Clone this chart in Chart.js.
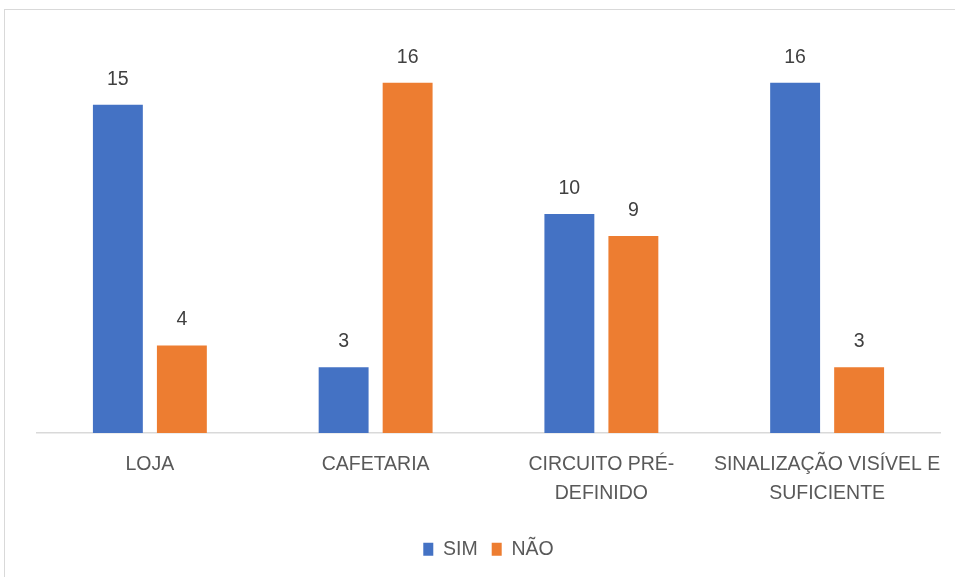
<!DOCTYPE html>
<html><head><meta charset="utf-8">
<script src="https://cdn.jsdelivr.net/npm/chart.js@4"></script>
<style>
html,body{margin:0;padding:0;background:#fff;overflow:hidden;width:955px;height:577px;}
#frame{position:absolute;left:4px;top:9px;width:980px;height:600px;border:1px solid #d9d9d9;box-sizing:border-box;}
#wrap{position:absolute;left:0;top:0;width:955px;height:577px;}
</style></head>
<body>
<div id="frame"></div>
<div id="wrap"><canvas id="c" width="955" height="577"></canvas></div>
<script>
const categories = [["LOJA"], ["CAFETARIA"], ["CIRCUITO PRÉ-", "DEFINIDO"], ["SINALIZAÇÃO VISÍVEL E", "SUFICIENTE"]];
const seriesNames = ["SIM", "NÃO"];
const simValues = [15, 3, 10, 16];
const naoValues = [4, 16, 9, 3];
const FONT = '"Liberation Sans", Arial, sans-serif';

const valueLabels = {
  id: 'valueLabels',
  afterDatasetsDraw(chart) {
    const ctx = chart.ctx;
    ctx.save();
    ctx.font = '19.5px ' + FONT;
    ctx.fillStyle = '#404040';
    ctx.textAlign = 'center';
    ctx.textBaseline = 'alphabetic';
    chart.data.datasets.forEach((ds, i) => {
      chart.getDatasetMeta(i).data.forEach((bar, j) => {
        ctx.fillText(String(ds.data[j]), bar.x, bar.y - 20);
      });
    });
    ctx.restore();
  }
};

new Chart(document.getElementById('c'), {
  type: 'bar',
  data: {
    labels: categories,
    datasets: [
      { label: seriesNames[0], data: simValues, backgroundColor: '#4472C4' },
      { label: seriesNames[1], data: naoValues, backgroundColor: '#ED7D31' }
    ]
  },
  options: {
    responsive: false,
    animation: false,
    layout: { padding: { left: 37, right: 15, top: 39, bottom: 8 } },
    datasets: { bar: { categoryPercentage: 0.567, barPercentage: 0.78 } },
    scales: {
      x: {
        grid: { display: false, drawTicks: false },
        border: { display: true, color: '#d9d9d9', width: 1.5 },
        ticks: { color: '#595959', font: { family: FONT, size: 19.5, lineHeight: 1.5 }, padding: 17, maxRotation: 0, autoSkip: false },
        afterFit(s) { s.height = 92.5; s.paddingLeft = 0; s.paddingRight = 0; }
      },
      y: { display: false, min: 0, max: 18 }
    },
    plugins: {
      legend: {
        position: 'bottom',
        labels: { color: '#595959', font: { family: FONT, size: 19.5 }, boxWidth: 10, boxHeight: 13, padding: 14 }
      },
      tooltip: { enabled: false }
    }
  },
  plugins: [valueLabels]
});
</script>
</body></html>
